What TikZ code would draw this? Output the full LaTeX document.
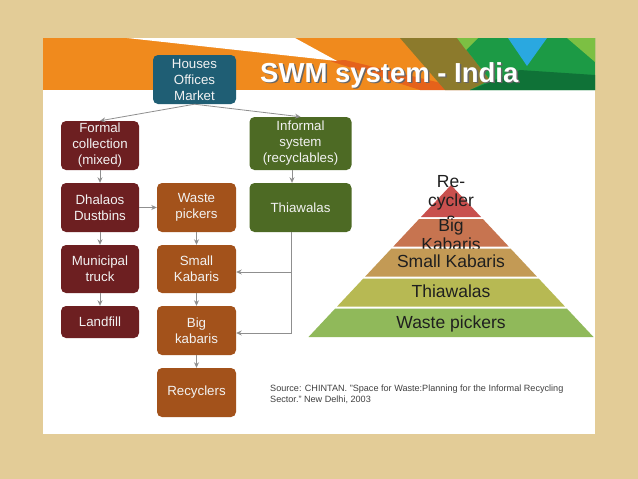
\documentclass[tikz,border=0pt]{standalone}
\usepackage{fontspec}
\setmainfont{Liberation Sans}
\usetikzlibrary{arrows.meta}
\definecolor{slidebg}{HTML}{E3CC97}
\definecolor{bannerorange}{HTML}{F08A1D}
\definecolor{bannerred}{HTML}{E5621B}
\definecolor{bannerolive}{HTML}{8C7A2C}
\definecolor{bannergreen}{HTML}{1C9A45}
\definecolor{bannerdark}{HTML}{0F7237}
\definecolor{bannerlime}{HTML}{7CC043}
\definecolor{bannerblue}{HTML}{2AA8E0}
\definecolor{srcteal}{HTML}{1F5E74}
\definecolor{formalred}{HTML}{6D1F21}
\definecolor{kabaribrown}{HTML}{A3521B}
\definecolor{informalgreen}{HTML}{4D6A24}
\definecolor{pyrred}{HTML}{C8504E}
\definecolor{pyrsalmon}{HTML}{C77450}
\definecolor{pyrtan}{HTML}{C39A55}
\definecolor{pyrlime}{HTML}{B7B953}
\definecolor{pyrgreen}{HTML}{90B95A}
\definecolor{linegray}{HTML}{8F8F8F}
\tikzset{
	box/.style={rectangle,rounded corners=5pt,text=white!95!black,align=center,inner sep=0pt,
		font=\fontsize{13.3}{16}\selectfont,minimum width=78pt,minimum height=49pt},
	source/.style={box,fill=srcteal,minimum width=83pt},
	formal/.style={box,fill=formalred},
	kabari/.style={box,fill=kabaribrown,minimum width=79pt},
	informal/.style={box,fill=informalgreen,minimum width=102pt},
	link/.style={draw=linegray,line width=0.8pt,-{Stealth[length=5.5pt,width=5pt]}},
	layer/.style={font=\fontsize{17.5}{19}\selectfont,align=center,inner sep=0pt,text=black!88},
	title/.style={anchor=base west,inner sep=0pt,font=\fontsize{27.5}{30}\selectfont\bfseries}
}

\begin{document}
\begin{tikzpicture}[x=1pt,y=-1pt]
			\useasboundingbox (0,0) rectangle (638,479);
			\fill[slidebg] (0,0) rectangle (638,479);
			\fill[white] (43,38) rectangle (595,434);
			% banner
			\fill[bannerorange] (43,38) rectangle (595,90);
			\fill[bannerred] (330,61) -- (345,60) -- (470,90) -- (420,90) -- cycle;
			\fill[white] (127,38) -- (295,38) -- (337,61) -- cycle;
			\fill[bannerolive] (400,38) -- (457,38) -- (490,80) -- (470,90) -- (445,90) -- cycle;
			\fill[bannergreen] (457,38) -- (595,38) -- (595,90) -- (470,90) -- (490,80) -- cycle;
			\fill[bannerdark] (470,90) -- (520,70) -- (595,75) -- (595,90) -- cycle;
			\fill[bannerlime] (457,38) -- (478,38) -- (466,50) -- cycle;
			\fill[bannerlime] (567,38) -- (595,38) -- (595,62) -- cycle;
			\fill[bannerblue] (508,38) -- (547,38) -- (527,66) -- cycle;
			\node[title,text=black!60] (shadow) at (261.5,83.5) {SWM system - India};
			\node[title,text=white] (title) at (260,82) {SWM system - India};
			
			% flow chart
			\node[source] (houses) at (194.5,79.5) {Houses\\Offices\\Market};
			\node[formal] (formal) at (100,145.5) {Formal\\collection\\(mixed)};
			\node[informal,minimum height=53pt] (informal) at (300.5,143.5) {Informal\\system\\(recyclables)};
			\node[formal] (dhal) at (100,207.5) {Dhalaos\\Dustbins};
			\node[kabari] (wpick) at (196.5,207.5) {Waste\\pickers};
			\node[informal] (thia) at (300.5,207.5) {Thiawalas};
			\node[formal,minimum height=48pt] (munic) at (100,269) {Municipal\\truck};
			\node[kabari,minimum height=48pt] (small) at (196.5,269) {Small\\Kabaris};
			\node[formal,minimum height=32pt] (land) at (100,322) {Landfill};
			\node[kabari] (big) at (196.5,330.5) {Big\\kabaris};
			\node[kabari] (recyc) at (196.5,392.5) {Recyclers};
			\node[coordinate] (tdrop) at (291,333) {};
			\node[coordinate] (tsplit) at (291,272) {};
			
			\draw[link] (houses.south) -- (formal.north);
			\draw[link] (houses.south) -- (informal.north);
			\draw[link] (formal) -- (dhal);
			\draw[link] (dhal) -- (wpick);
			\draw[link] (dhal) -- (munic);
			\draw[link] (munic) -- (land);
			\draw[link] (wpick) -- (small);
			\draw[link] (small) -- (big);
			\draw[link] (big) -- (recyc);
			\draw[link] ([xshift=-8.5pt]informal.south) -- ([xshift=-8.5pt]thia.north);
			\draw[link] (thia.south -| tdrop) -- (tdrop) -- (tdrop -| big.east);
			\draw[link] (tsplit) -- (tsplit -| small.east);
			
			% pyramid
			\foreach \yt/\yb/\col/\txt/\ty [count=\i] in {185/217/pyrred/{Re-\\cycler\\s}/200.5,
				219/246.5/pyrsalmon/{Big\\Kabaris}/234.5, 248.5/276.5/pyrtan/{Small Kabaris}/261.7,
				278.5/306.5/pyrlime/{Thiawalas}/291.7, 308.5/337/pyrgreen/{Waste pickers}/323.5}{
				\pgfmathsetmacro\wt{0.9375*(\yt-185)}
				\pgfmathsetmacro\wb{0.9375*(\yb-185)}
				\fill[\col] (451-\wt,\yt) -- (451+\wt,\yt) -- (451+\wb,\yb) -- (451-\wb,\yb) -- cycle;
				\node[layer] (lay\i) at (451,\ty) {\txt};
			}
			
			\node[anchor=north west,align=left,inner sep=0pt,font=\fontsize{9.1}{10.5}\selectfont,text=black!75] (cite) at (270,385)
				{Source: CHINTAN. "Space for Waste:Planning for the Informal Recycling\\Sector." New Delhi, 2003};
		\end{tikzpicture}
\end{document}
